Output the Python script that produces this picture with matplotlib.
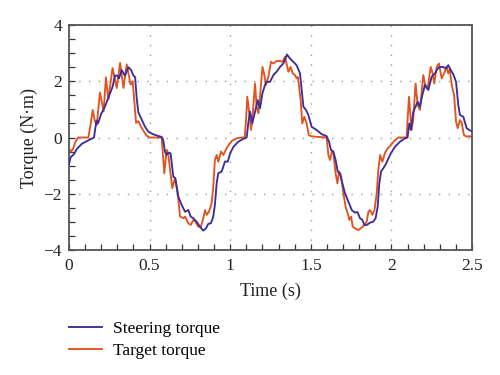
import matplotlib
matplotlib.use("Agg")
import matplotlib.pyplot as plt
from matplotlib.ticker import MultipleLocator

plt.rcParams['font.family'] = ['Liberation Serif', 'DejaVu Serif']
plt.rcParams['mathtext.fontset'] = 'stix'

steer_t = [0.0, 0.01, 0.03, 0.05, 0.08, 0.12, 0.155, 0.17, 0.18, 0.2, 0.215, 0.23, 0.25, 0.27, 0.285, 0.3,
           0.31, 0.327, 0.347, 0.368, 0.385, 0.4, 0.41, 0.42, 0.43, 0.45, 0.47, 0.49, 0.52, 0.55, 0.575,
           0.585, 0.595, 0.605, 0.615, 0.63, 0.647, 0.66, 0.678, 0.699, 0.72, 0.74, 0.755, 0.771, 0.791,
           0.812, 0.833, 0.85, 0.864, 0.88, 0.895, 0.905, 0.916, 0.926, 0.947, 0.968, 0.985, 1.0, 1.02,
           1.05, 1.08, 1.102, 1.112, 1.123, 1.137, 1.154, 1.171, 1.185, 1.2, 1.216, 1.226, 1.247, 1.268,
           1.288, 1.309, 1.33, 1.352, 1.371, 1.392, 1.412, 1.433, 1.454, 1.47, 1.485, 1.505, 1.536, 1.567,
           1.598, 1.613, 1.625, 1.64, 1.654, 1.667, 1.681, 1.696, 1.712, 1.733, 1.754, 1.774, 1.79, 1.805,
           1.82, 1.832, 1.847, 1.867, 1.888, 1.902, 1.915, 1.925, 1.936, 1.95, 1.965, 1.977, 1.997, 2.022,
           2.053, 2.084, 2.1, 2.111, 2.121, 2.136, 2.15, 2.163, 2.177, 2.192, 2.208, 2.229, 2.25, 2.27,
           2.287, 2.301, 2.32, 2.339, 2.353, 2.368, 2.384, 2.401, 2.415, 2.425, 2.446, 2.467, 2.487, 2.5]
steer_v = [-0.95, -0.7, -0.6, -0.4, -0.22, -0.1, 0.0, 0.6, 0.5, 0.85, 1.0, 1.2, 1.5, 1.8, 2.2, 2.2,
           2.1, 2.4, 2.2, 2.5, 2.4, 2.2, 2.15, 1.4, 0.9, 0.65, 0.4, 0.22, 0.12, 0.06, 0.02,
           -0.1, -0.5, -0.62, -0.54, -0.56, -1.39, -1.45, -2.1, -2.4, -2.64, -2.58, -2.81, -2.87, -2.99,
           -3.17, -3.31, -3.23, -3.07, -3.05, -2.81, -2.4, -1.63, -1.27, -1.21, -0.85, -0.86, -0.56, -0.33,
           -0.15, -0.05, 0.0, 0.5, 0.92, 0.5, 0.92, 1.33, 1.04, 1.57, 1.87, 1.98, 1.98, 2.22,
           2.34, 2.51, 2.63, 2.95, 2.81, 2.69, 2.57, 2.28, 1.1, 0.98, 0.8, 0.38, 0.27, 0.12,
           0.05, -0.15, -0.44, -0.5, -0.8, -1.21, -1.27, -1.63, -1.98, -2.28, -2.58, -2.67, -2.65, -2.87,
           -2.93, -3.11, -3.11, -3.03, -2.99, -2.87, -2.46, -1.63, -1.21, -1.09, -0.95, -0.8, -0.56, -0.33,
           -0.15, -0.03, 0.0, 0.5, 0.27, 0.92, 1.1, 1.27, 1.1, 1.51, 1.87, 1.69, 2.16, 2.28,
           2.45, 2.51, 2.51, 2.45, 2.57, 2.4, 2.25, 1.98, 1.15, 0.8, 0.74, 0.33, 0.25, 0.23]

target_t = [0.0, 0.012, 0.025, 0.04, 0.057, 0.12, 0.135, 0.147, 0.16, 0.172, 0.192, 0.215, 0.229, 0.244,
            0.27, 0.296, 0.317, 0.338, 0.358, 0.382, 0.395, 0.416, 0.43, 0.45, 0.48, 0.5, 0.575, 0.591,
            0.606, 0.615, 0.627, 0.641, 0.657, 0.674, 0.689, 0.71, 0.72, 0.74, 0.755, 0.771, 0.785, 0.802,
            0.818, 0.833, 0.844, 0.855, 0.868, 0.885, 0.895, 0.905, 0.916, 0.926, 0.943, 0.957, 0.978,
            0.99, 1.01, 1.04, 1.071, 1.09, 1.098, 1.106, 1.117, 1.129, 1.137, 1.154, 1.164, 1.175, 1.185,
            1.2, 1.21, 1.222, 1.237, 1.253, 1.268, 1.288, 1.31, 1.323, 1.34, 1.361, 1.375, 1.388, 1.402,
            1.412, 1.42, 1.437, 1.447, 1.46, 1.474, 1.488, 1.5, 1.526, 1.598, 1.609, 1.619, 1.63, 1.64,
            1.654, 1.665, 1.675, 1.688, 1.702, 1.716, 1.729, 1.739, 1.75, 1.76, 1.774, 1.795, 1.816,
            1.832, 1.847, 1.857, 1.867, 1.882, 1.895, 1.909, 1.919, 1.93, 1.944, 1.96, 1.975, 1.997,
            2.018, 2.043, 2.094, 2.109, 2.125, 2.135, 2.15, 2.163, 2.177, 2.198, 2.208, 2.218, 2.228,
            2.244, 2.256, 2.266, 2.281, 2.295, 2.312, 2.327, 2.341, 2.353, 2.362, 2.374, 2.389, 2.401,
            2.411, 2.425, 2.435, 2.45, 2.467, 2.487, 2.5]
target_v = [-0.4, -0.5, -0.4, -0.15, 0.0, 0.0, 0.5, 0.98, 0.6, 0.44, 1.6, 0.93, 2.14, 1.35,
            2.47, 1.76, 2.65, 1.76, 2.6, 1.88, 2.0, 0.52, 0.58, 0.35, 0.07, 0.0, 0.0, -1.27,
            -0.44, -0.56, -1.15, -1.8, -1.45, -1.98, -2.81, -2.87, -2.81, -3.05, -3.11, -2.93, -3.0, -3.17,
            -3.17, -2.87, -2.58, -2.75, -2.64, -2.34, -1.75, -0.8, -0.62, -0.86, -0.5, -0.62, -0.38,
            -0.27, -0.12, -0.03, 0.0, 0.0, 0.62, 1.45, 0.92, 0.27, 0.62, 1.92, 1.1, 0.86, 1.45,
            2.51, 2.28, 1.87, 2.16, 2.69, 2.63, 2.72, 2.72, 2.69, 2.87, 2.34, 2.51, 2.28, 2.22,
            2.1, 2.15, 1.33, 0.5, 0.74, 0.5, 0.09, 0.05, 0.03, 0.0, -0.62, -0.8, -0.5, -0.56,
            -1.27, -1.63, -1.21, -1.39, -1.98, -2.46, -2.7, -2.93, -2.81, -3.17, -3.23, -3.29, -3.2,
            -3.11, -2.99, -2.64, -2.58, -2.75, -2.58, -1.98, -1.15, -0.62, -0.86, -0.55, -0.4, -0.27,
            -0.12, 0.0, 0.0, 1.45, 0.27, 0.62, 1.92, 1.15, 0.98, 2.22, 1.92, 1.75, 1.87,
            2.51, 2.28, 1.92, 2.51, 2.63, 2.1, 2.28, 2.51, 2.28, 2.45, 1.87, 1.51, 0.57,
            0.33, 0.62, 0.55, 0.09, 0.03, 0.05, 0.0]

x_ticks = [0, 0.5, 1, 1.5, 2, 2.5]
x_ticklabels = ["0", "0.5", "1", "1.5", "2", "2.5"]
y_ticks = [-4, -2, 0, 2, 4]
y_ticklabels = ["\u22124", "\u22122", "0", "2", "4"]

fig = plt.figure(figsize=(5, 3.75), dpi=100)
ax = fig.add_axes([0.138, 0.3333, 0.806, 0.6])

blue = "#3b2f9c"
red = "#e2531f"
ax.plot(steer_t, steer_v, color=blue, lw=1.35, label="Steering torque", zorder=3)
ax.plot(target_t, target_v, color=red, lw=1.35, label="Target torque", zorder=2)

ax.set_xlim(0, 2.5)
ax.set_ylim(-4, 4)
ax.set_xticks(x_ticks)
ax.set_xticklabels(x_ticklabels)
ax.set_yticks(y_ticks)
ax.set_yticklabels(y_ticklabels)
ax.xaxis.set_minor_locator(MultipleLocator(0.1))
ax.yaxis.set_minor_locator(MultipleLocator(0.5))
ax.tick_params(which='both', direction='in', top=False, right=False, length=4, width=0.9,
               color='#333333', labelsize=12.5, labelcolor='#222222')
ax.tick_params(axis='x', pad=6)
ax.tick_params(axis='y', pad=5)
ax.grid(True, which='major', linestyle=(0, (1, 6)), color='#999999', linewidth=1.0)
for s in ax.spines.values():
    s.set_color('#555555')
    s.set_linewidth(1.3)

ax.set_xlabel("Time (s)", fontsize=13, color='#222222', labelpad=6)
ax.set_ylabel("Torque (N\u00b7m)", fontsize=13, color='#222222', labelpad=4)

fig.legend(loc='upper left', bbox_to_anchor=(0.125, 0.162), frameon=False, fontsize=12.5,
           handlelength=1.9, handletextpad=0.6, labelspacing=0.3, borderaxespad=0)

fig.savefig("out.png", dpi=100)
